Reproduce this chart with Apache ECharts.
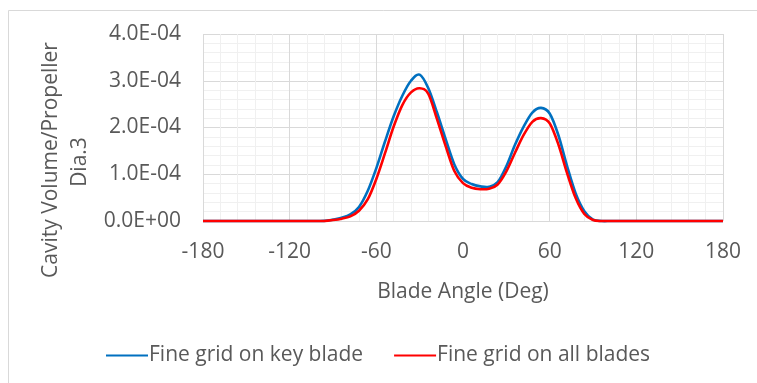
<!DOCTYPE html>
<html>
<head>
<meta charset="utf-8">
<script src="https://cdn.jsdelivr.net/npm/echarts@6/dist/echarts.min.js"></script>
<style>
  html, body { margin: 0; padding: 0; background: #fff; }
  #chart { width: 757px; height: 383px; }
</style>
</head>
<body>
<div id="chart"></div>
<script>
// Blade angle samples (deg), every 6 degrees
const angles = [];
for (let a = -180; a <= 180; a += 6) angles.push(a);

// Cavity volume / propeller dia^3, in units of 1e-4
const keyBlade = [
  0, 0, 0, 0, 0, 0, 0, 0, 0, 0, 0, 0, 0, 0,
  0.002, 0.03, 0.07, 0.14, 0.30, 0.64, 1.13, 1.70, 2.24, 2.68, 3.00, 3.13,
  2.84, 2.32, 1.75, 1.21, 0.90, 0.79, 0.74, 0.73, 0.83, 1.17, 1.63, 2.02,
  2.32, 2.42, 2.30, 1.84, 1.18, 0.59, 0.21, 0.03, 0,
  0, 0, 0, 0, 0, 0, 0, 0, 0, 0, 0, 0, 0, 0
];
const allBlades = [
  0, 0, 0, 0, 0, 0, 0, 0, 0, 0, 0, 0, 0, 0,
  0, 0.02, 0.05, 0.10, 0.22, 0.46, 0.90, 1.45, 2.02, 2.48, 2.75, 2.84,
  2.72, 2.18, 1.60, 1.07, 0.81, 0.71, 0.68, 0.69, 0.78, 1.06, 1.46, 1.84,
  2.12, 2.20, 2.09, 1.64, 1.03, 0.49, 0.15, 0.02, 0,
  0, 0, 0, 0, 0, 0, 0, 0, 0, 0, 0, 0, 0, 0
];

const seriesNames = ['Fine grid on key blade', 'Fine grid on all blades'];
const seriesColors = ['#0070c0', '#ff0000'];
const xTicks = [-180, -120, -60, 0, 60, 120, 180];
const yTicks = ['0.0E+00', '1.0E-04', '2.0E-04', '3.0E-04', '4.0E-04'];
const xTitle = 'Blade Angle (Deg)';
const yTitleLines = ['Cavity Volume/Propeller', 'Dia.3'];

const FONT = '"Open Sans", sans-serif';
const FS = 21;
const TEXT = '#595959';

const toPairs = vals => angles.map((a, i) => [a, vals[i] * 1e-4]);

// Smooth curve through all samples (Catmull-Rom -> cubic Bezier), placed with the axis scales
function smoothCurve(color) {
  return function (params, api) {
    if (params.dataIndex !== 0) return null;
    const n = params.dataInsideLength;
    const pts = [];
    for (let i = 0; i < n; i++) pts.push(api.coord([api.value(0, i), api.value(1, i)]));
    let d = 'M' + pts[0][0] + ' ' + pts[0][1];
    for (let i = 0; i < n - 1; i++) {
      const p0 = pts[Math.max(i - 1, 0)], p1 = pts[i], p2 = pts[i + 1], p3 = pts[Math.min(i + 2, n - 1)];
      const c1x = p1[0] + (p2[0] - p0[0]) / 6, c1y = p1[1] + (p2[1] - p0[1]) / 6;
      const c2x = p2[0] - (p3[0] - p1[0]) / 6, c2y = p2[1] - (p3[1] - p1[1]) / 6;
      d += ' C' + c1x + ' ' + c1y + ' ' + c2x + ' ' + c2y + ' ' + p2[0] + ' ' + p2[1];
    }
    return {
      type: 'path',
      shape: { pathData: d },
      style: { fill: null, stroke: color, lineWidth: 2.6, lineJoin: 'round' },
      silent: true
    };
  };
}

const chart = echarts.init(document.getElementById('chart'), null, { renderer: 'canvas' });

chart.setOption({
  animation: false,
  backgroundColor: '#fff',
  grid: { left: 203, right: 34, top: 34, bottom: 162 },
  xAxis: {
    type: 'value', min: -180, max: 180, interval: 60,
    axisLine: { show: false }, axisTick: { show: false },
    axisLabel: { color: TEXT, fontFamily: FONT, fontSize: FS, margin: 21,
      formatter: v => xTicks.includes(v) ? String(v) : '' },
    splitLine: { show: true, lineStyle: { color: '#d9d9d9', width: 1 } },
    minorTick: { show: false, splitNumber: 5 },
    minorSplitLine: { show: true, lineStyle: { color: '#f0f0f0', width: 1 } }
  },
  yAxis: {
    type: 'value', min: 0, max: 4e-4, interval: 1e-4,
    axisLine: { show: false }, axisTick: { show: false },
    axisLabel: { color: TEXT, fontFamily: FONT, fontSize: FS, margin: 22,
      formatter: v => yTicks[Math.round(v / 1e-4)] },
    splitLine: { show: true, lineStyle: { color: '#d9d9d9', width: 1 } },
    minorTick: { show: false, splitNumber: 5 },
    minorSplitLine: { show: true, lineStyle: { color: '#f0f0f0', width: 1 } }
  },
  legend: {
    top: 340, left: 101, itemGap: 31, itemWidth: 42, itemHeight: 2,
    icon: 'rect',
    textStyle: { color: TEXT, fontFamily: FONT, fontSize: FS, padding: [0, 0, 0, -4] },
    data: seriesNames
  },
  graphic: [
    { type: 'rect', left: 6, top: 8, shape: { width: 760, height: 400 },
      style: { fill: 'none', stroke: '#d9d9d9', lineWidth: 1 }, silent: true, z: -1 },
    { type: 'text', x: 51, y: 160, rotation: Math.PI / 2,
      style: { text: yTitleLines[0], fill: TEXT, font: FS + 'px ' + FONT,
        textAlign: 'center', textVerticalAlign: 'middle' } },
    { type: 'text', x: 80, y: 162, rotation: Math.PI / 2,
      style: { text: yTitleLines[1], fill: TEXT, font: FS + 'px ' + FONT,
        textAlign: 'center', textVerticalAlign: 'middle' } },
    { type: 'text', x: 463, y: 292,
      style: { text: xTitle, fill: TEXT, font: FS + 'px ' + FONT,
        textAlign: 'center', textVerticalAlign: 'middle' } }
  ],
  series: [
    { name: seriesNames[0], type: 'custom', data: toPairs(keyBlade),
      encode: { x: 0, y: 1 }, renderItem: smoothCurve(seriesColors[0]),
      itemStyle: { color: seriesColors[0] } },
    { name: seriesNames[1], type: 'custom', data: toPairs(allBlades),
      encode: { x: 0, y: 1 }, renderItem: smoothCurve(seriesColors[1]),
      itemStyle: { color: seriesColors[1] } }
  ]
});
</script>
</body>
</html>
